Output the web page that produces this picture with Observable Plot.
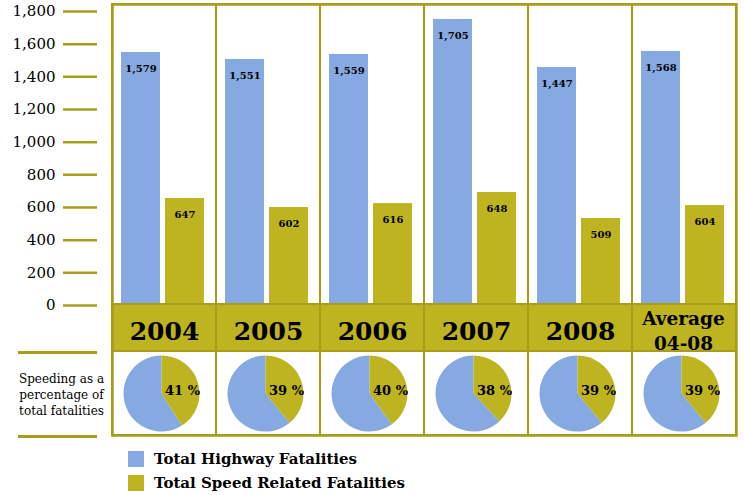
<!DOCTYPE html>
<html>
<head>
<meta charset="utf-8">
<script src="https://cdn.jsdelivr.net/npm/d3@7"></script>
<script src="https://cdn.jsdelivr.net/npm/@observablehq/plot@0.6"></script>
<style>
  body { margin: 0; background: #fff; font-family: "DejaVu Serif", serif; }
  #wrap { position: relative; width: 744px; height: 495px; }
  .hline { position: absolute; left: 18px; width: 79px; height: 2.5px; background: #a69d1a; }
  #legend { position: absolute; left: 128px; top: 451px; font: bold 15px "DejaVu Serif", serif; color: #000; }
  .item { display: flex; align-items: center; height: 16px; margin-bottom: 8px; }
  .sw { width: 16px; height: 16px; margin-right: 10px; }
</style>
</head>
<body>
<div id="wrap">
  <div id="chart"></div>
  <div class="hline" style="top:351px"></div>
  <div class="hline" style="top:435px"></div>
  <div id="legend"></div>
</div>
<script>
// Categories
const categories = ["2004", "2005", "2006", "2007", "2008", "Average\n04-08"];
// Bar heights as drawn in the picture
const totalHighway = [1549, 1506, 1537, 1751, 1457, 1555];
const speedRelated = [655, 600, 624, 692, 533, 612];
// Printed value labels
const totalLabels = ["1,579", "1,551", "1,559", "1,705", "1,447", "1,568"];
const speedLabels = ["647", "602", "616", "648", "509", "604"];
// Speeding share (percent)
const speedPct = [41, 39, 40, 38, 39, 39];
// Axis ticks
const yTicks = [0, 200, 400, 600, 800, 1000, 1200, 1400, 1600, 1800];
const seriesNames = ["Total Highway Fatalities", "Total Speed Related Fatalities"];

const blue = "#87a9e1";
const olive = "#beb41f";
const lineOlive = "#a69d1a";

const rows = categories.map((c, i) => ({
  cat: c, total: totalHighway[i], speed: speedRelated[i],
  totalLabel: totalLabels[i], speedLabel: speedLabels[i], pct: speedPct[i]
}));
const yearRows = rows.filter(d => !d.cat.includes("\n"));
const avgRows = rows.filter(d => d.cat.includes("\n"));

function wedge(a0, a1) {
  return {
    draw(context, size) {
      const r = Math.sqrt(size / Math.PI);
      context.moveTo(0, 0);
      context.arc(0, 0, r, a0, a1);
      context.closePath();
    }
  };
}

const pieMarks = [];
rows.forEach(d => {
  const start = -Math.PI / 2;
  const mid = start + (d.pct / 100) * 2 * Math.PI;
  pieMarks.push(Plot.dot([d], {x: "cat", frameAnchor: "bottom", dy: -42, dx: -3, r: 38,
    fill: blue, symbol: wedge(mid, start + 2 * Math.PI)}));
  pieMarks.push(Plot.dot([d], {x: "cat", frameAnchor: "bottom", dy: -42, dx: -3, r: 38,
    fill: olive, symbol: wedge(start, mid)}));
});

const chart = Plot.plot({
  width: 744,
  height: 440,
  marginTop: 4,
  marginBottom: 5,
  marginLeft: 112,
  marginRight: 8,
  style: {fontFamily: "DejaVu Serif", fontSize: "15px", color: "#000", background: "#fff", overflow: "visible"},
  x: {type: "band", domain: categories, padding: 0, axis: null},
  y: {domain: [0, 1800], range: [305, 11], axis: null},
  marks: [
    Plot.axisY({ticks: yTicks, tickFormat: d3.format(","), tickSize: 34, tickPadding: 8, dx: -15,
      stroke: lineOlive, strokeWidth: 2.5, fill: "#000", fontSize: 15, label: null}),
    Plot.barY(rows, {x: "cat", y: "total", fill: blue, insetLeft: 9, insetRight: 56}),
    Plot.barY(rows, {x: "cat", y: "speed", fill: olive, insetLeft: 53, insetRight: 12}),
    Plot.text(rows, {x: "cat", y: "total", text: "totalLabel", dx: -23.5, dy: 16.5,
      fontSize: 10, fontWeight: "bold", fill: "#000"}),
    Plot.text(rows, {x: "cat", y: "speed", text: "speedLabel", dx: 20.5, dy: 16.5,
      fontSize: 10, fontWeight: "bold", fill: "#000"}),
    Plot.cell(rows, {x: "cat", fill: olive, stroke: lineOlive, strokeWidth: 2, insetTop: 300, insetBottom: 84}),
    Plot.text(yearRows, {x: "cat", text: "cat", frameAnchor: "bottom", dy: -104, lineAnchor: "middle",
      fontSize: 25, fontWeight: "bold", fill: "#000"}),
    Plot.text(avgRows, {x: "cat", text: "cat", frameAnchor: "bottom", dy: -106, dx: -1, lineAnchor: "middle",
      fontSize: 18.5, fontWeight: "bold", lineHeight: 1.33, fill: "#000"}),
    ...pieMarks,
    Plot.text(rows, {x: "cat", text: d => d.pct + " %", frameAnchor: "bottom", dx: 18, dy: -45,
      lineAnchor: "middle", fontSize: 13, fontWeight: "bold", fill: "#000"}),
    Plot.cell(rows, {x: "cat", fill: "none", stroke: lineOlive, strokeWidth: 2}),
    Plot.frame({stroke: lineOlive, strokeWidth: 2.5}),
    Plot.text(["Speeding as a\npercentage of\ntotal fatalities"], {frameAnchor: "bottom-left", dx: -51, dy: -42,
      textAnchor: "middle", lineAnchor: "middle", lineHeight: 1.33, fontSize: 12, fill: "#000"})
  ]
});
chart.style.display = "block";
document.getElementById("chart").appendChild(chart);

const legend = document.getElementById("legend");
[blue, olive].forEach((c, i) => {
  const item = document.createElement("div");
  item.className = "item";
  const sw = document.createElement("div");
  sw.className = "sw";
  sw.style.background = c;
  const t = document.createElement("span");
  t.textContent = seriesNames[i];
  item.appendChild(sw);
  item.appendChild(t);
  legend.appendChild(item);
});
</script>
</body>
</html>
